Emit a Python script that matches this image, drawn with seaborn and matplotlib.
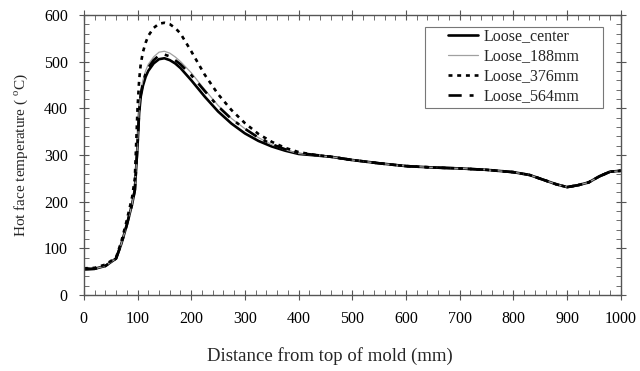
import matplotlib
matplotlib.use("Agg")
import matplotlib.pyplot as plt
import seaborn as sns
from matplotlib.patches import Rectangle
from matplotlib.ticker import MultipleLocator

# distance from top of mold (mm)
distance = [0, 20, 40, 60, 70, 80, 90, 95, 100, 103, 106, 110, 115, 120, 130, 140, 150,
            160, 170, 180, 200, 225, 250, 275, 300, 325, 350, 375, 400, 430, 460, 500,
            550, 600, 650, 700, 750, 800, 830, 860, 880, 900, 920, 940, 960, 980, 1000]

tail = [296, 289, 282, 276, 273, 271, 268, 263, 257, 245, 237, 231, 235, 241, 254, 264, 266]

loose_center = [55, 56, 62, 78, 110, 150, 195, 225, 320, 390, 425, 448, 467, 480, 496, 505,
                507, 503, 496, 486, 460, 425, 393, 367, 346, 330, 318, 309, 302, 299] + tail
loose_188 = [55, 56, 62, 78, 110, 150, 195, 225, 325, 398, 435, 460, 480, 494, 510, 520,
             522, 518, 510, 500, 476, 440, 406, 378, 356, 337, 322, 311, 303, 299] + tail
loose_376 = [57, 58, 65, 80, 115, 160, 210, 250, 400, 460, 495, 520, 540, 555, 572, 581,
             583, 580, 572, 560, 522, 472, 430, 396, 368, 345, 328, 315, 306, 300] + tail
loose_564 = [55, 56, 62, 78, 110, 150, 195, 225, 322, 394, 430, 454, 474, 487, 503, 513,
             515, 511, 503, 494, 471, 437, 404, 377, 356, 337, 323, 312, 304, 300] + tail

sns.set_style("ticks")
plt.rcParams["font.family"] = ["Liberation Serif", "DejaVu Serif"]
plt.rcParams["mathtext.fontset"] = "custom"
plt.rcParams["mathtext.rm"] = "Liberation Serif"

fig = plt.figure(figsize=(6.4, 3.71), dpi=100)
ax = fig.add_axes([0.131, 0.205, 0.839, 0.755])

sns.lineplot(x=distance, y=loose_center, ax=ax, color="black", lw=1.9, label="Loose_center")
sns.lineplot(x=distance, y=loose_188, ax=ax, color="#a0a0a0", lw=0.9, label="Loose_188mm")
sns.lineplot(x=distance, y=loose_376, ax=ax, color="black", lw=1.9, label="Loose_376mm")
ax.lines[-1].set_dashes((1.5, 1.8))
sns.lineplot(x=distance, y=loose_564, ax=ax, color="black", lw=1.9, label="Loose_564mm")
ax.lines[-1].set_dashes((5, 3, 1.5, 3))

ax.set_xlim(0, 1000)
ax.set_ylim(0, 600)
ax.xaxis.set_major_locator(MultipleLocator(100))
ax.xaxis.set_minor_locator(MultipleLocator(20))
ax.yaxis.set_major_locator(MultipleLocator(100))
ax.yaxis.set_minor_locator(MultipleLocator(20))

for s in ax.spines.values():
    s.set_color("#555555")
    s.set_linewidth(1.0)
ax.tick_params(which="both", top=True, right=True, color="#555555", labelsize=11.5,
               labelcolor="black")
ax.tick_params(which="major", direction="inout", length=7, pad=8)
ax.tick_params(which="minor", direction="in", length=3.5)

ax.set_xlabel("Distance from top of mold (mm)", fontsize=13.5)
ax.xaxis.set_label_coords(0.458, -0.185)
ax.set_ylabel("Hot face temperature ( $^{\\mathrm{o}}$C)", fontsize=11, labelpad=10)

# legend frame drawn separately to get the wide side padding
ax.add_patch(Rectangle((0.635, 0.668), 0.3315, 0.289, transform=ax.transAxes,
                       fill=True, facecolor="white", edgecolor="#777777", lw=0.8, zorder=4))
leg = ax.legend(loc="upper left", bbox_to_anchor=(0.678, 0.952), fontsize=11.5,
                frameon=False, handlelength=1.9, borderpad=0, borderaxespad=0,
                labelspacing=0.25, handletextpad=0.35)
leg.set_zorder(5)

fig.savefig("out.png", dpi=100)
